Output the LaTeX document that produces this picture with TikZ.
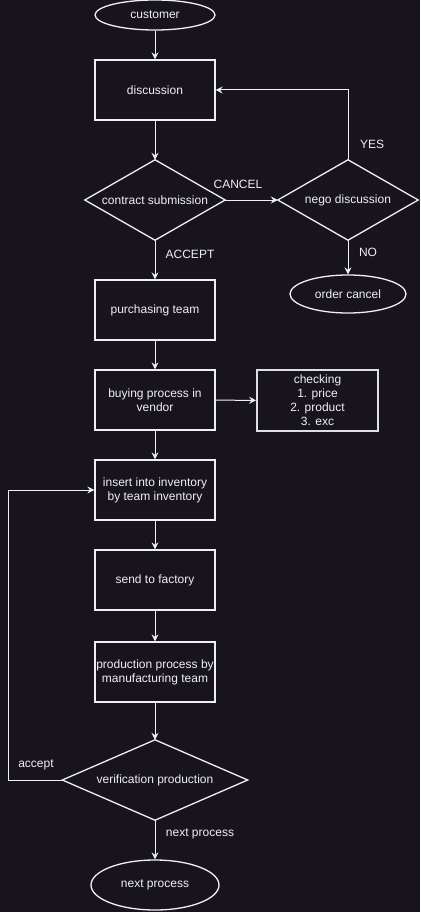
\documentclass[tikz,border=0pt]{standalone}
\usepackage{fontspec}
\setmainfont{Liberation Sans}
\usetikzlibrary{shapes.geometric,arrows.meta}
\definecolor{bgc}{RGB}{24,20,29}
\definecolor{fg}{RGB}{240,240,240}
\tikzset{
  every node/.style={font=\fontsize{12pt}{14pt}\selectfont, text=fg},
  procbox/.style={draw=fg, line width=1.3pt, rectangle, minimum width=120pt, minimum height=60pt, inner sep=0pt, align=center},
  termbox/.style={draw=fg, line width=1.3pt, ellipse, inner sep=0pt, align=center},
  decbox/.style={rectangle, draw=none, inner sep=0pt, align=center},
  decline/.style={draw=fg, line width=1.3pt, line join=miter},
  conn/.style={draw=fg, line width=1pt, -{Stealth[length=7pt,width=7pt,inset=2.5pt]}},
  lbl/.style={inner sep=0pt}
}
\begin{document}
\begin{tikzpicture}[x=1pt,y=-1pt]
\fill[bgc] (0,0) rectangle (420,912);
\useasboundingbox (0,0) rectangle (420,912);

\node[termbox, minimum width=120pt, minimum height=30pt] (cust) at (155,15) {customer};
\node[procbox] (disc) at (155,90) {discussion};
\node[decbox, minimum width=140pt, minimum height=80pt] (cs) at (155,200) {contract submission};
\draw[decline] (cs.north) -- (cs.east) -- (cs.south) -- (cs.west) -- cycle;
\node[decbox, minimum width=140pt, minimum height=80pt] (nego) at (348,200) {nego discussion};
\draw[decline] (nego.north) -- (nego.east) -- (nego.south) -- (nego.west) -- cycle;
\node[termbox, minimum width=116pt, minimum height=38pt] (oc) at (348,294) {order cancel};
\node[procbox] (pt) at (155,310) {purchasing team};
\node[procbox] (bp) at (155,400) {buying process in\\vendor};
\node[procbox, draw=fg!85!gray, line width=1.8pt, minimum width=121pt, minimum height=61pt] (chk) at (317.5,400.5) {checking\\1. price\\2. product\\3. exc};
\node[procbox] (inv) at (155,490) {insert into inventory\\by team inventory};
\node[procbox] (stf) at (155,580) {send to factory};
\node[procbox] (pp) at (155,672) {production process by\\manufacturing team};
\node[decbox, minimum width=185pt, minimum height=80pt] (vp) at (155,780) {verification production};
\draw[decline] (vp.north) -- (vp.east) -- (vp.south) -- (vp.west) -- cycle;
\node[termbox, minimum width=128pt, minimum height=50pt] (np) at (155,885) {next process};

\coordinate (yesc) at (348,90);
\coordinate (acc1) at (8,780);
\coordinate (acc2) at (8,490);

\draw[conn] (cust) -- (disc);
\draw[conn] (disc) -- (cs.north);
\draw[conn] (cs.east) -- (nego.west);
\draw[conn] (nego.north) -- (yesc) -- (disc.east);
\draw[conn] (nego.south) -- (oc);
\draw[conn] (cs.south) -- (pt);
\draw[conn] (pt) -- (bp);
\draw[conn] (bp) -- (chk);
\draw[conn] (bp) -- (inv);
\draw[conn] (inv) -- (stf);
\draw[conn] (stf) -- (pp);
\draw[conn] (pp) -- (vp.north);
\draw[conn] (vp.south) -- (np);
\draw[conn] (vp.west) -- (acc1) -- (acc2) -- (inv.west);

\node[lbl] (lyes) at (372,144) {YES};
\node[lbl] (lcancel) at (238,184) {CANCEL};
\node[lbl] (laccept) at (190,254) {ACCEPT};
\node[lbl] (lno) at (368,252) {NO};
\node[lbl] (lacc) at (36,765) {accept};
\node[lbl] (lnext) at (200,834) {next process};
\end{tikzpicture}
\end{document}
